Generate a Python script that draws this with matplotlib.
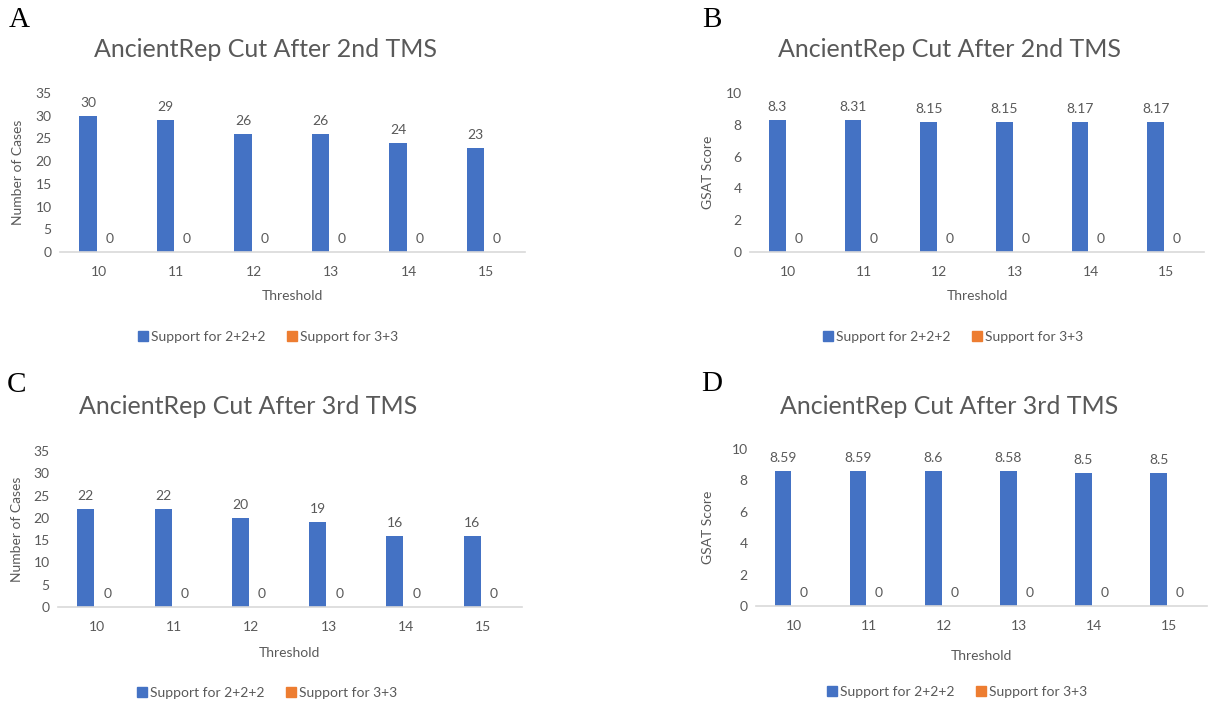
import matplotlib
matplotlib.use("Agg")
import matplotlib.pyplot as plt
import numpy as np
from matplotlib.patches import Patch

thresholds = ["10", "11", "12", "13", "14", "15"]
a_222 = [30, 29, 26, 26, 24, 23]
a_33 = [0, 0, 0, 0, 0, 0]
b_222 = [8.3, 8.31, 8.15, 8.15, 8.17, 8.17]
b_33 = [0, 0, 0, 0, 0, 0]
c_222 = [22, 22, 20, 19, 16, 16]
c_33 = [0, 0, 0, 0, 0, 0]
d_222 = [8.59, 8.59, 8.6, 8.58, 8.5, 8.5]
d_33 = [0, 0, 0, 0, 0, 0]

series_names = ["Support for 2+2+2", "Support for 3+3"]
title_2nd = "AncientRep Cut After 2nd TMS"
title_3rd = "AncientRep Cut After 3rd TMS"

BLUE = "#4472C4"
ORANGE = "#ED7D31"
GRAY = "#595959"
AXGRAY = "#D9D9D9"
FONT = "Lato"

W, H = 1215, 702
fig = plt.figure(figsize=(W / 100, H / 100), dpi=100)
plt.rcParams['font.family'] = [FONT, 'DejaVu Sans']


def px_axes(l, r, top, bot):
    return [l / W, 1 - bot / H, (r - l) / W, (bot - top) / H]


panels = [
    dict(rect=px_axes(60, 525, 93, 252), v1=a_222, v2=a_33, ymax=35, step=5,
         ylabel="Number of Cases", title=title_2nd, tx=0.441, ty=1.22,
         ylx=-0.09, xly=-0.277, leg=(268, 337), letter=("A", 19, 20)),
    dict(rect=px_axes(750, 1204, 93, 252), v1=b_222, v2=b_33, ymax=10, step=2,
         ylabel="GSAT Score", title=title_2nd, tx=0.4405, ty=1.22,
         ylx=-0.0925, xly=-0.277, leg=(953, 337), letter=("B", 712, 20)),
    dict(rect=px_axes(58, 521.6, 451, 607), v1=c_222, v2=c_33, ymax=35, step=5,
         ylabel="Number of Cases", title=title_3rd, tx=0.41, ty=1.231,
         ylx=-0.088, xly=-0.295, leg=(267, 693), letter=("C", 17, 385)),
    dict(rect=px_axes(756, 1206.6, 449, 606), v1=d_222, v2=d_33, ymax=10, step=2,
         ylabel="GSAT Score", title=title_3rd, tx=0.428, ty=1.217,
         ylx=-0.1065, xly=-0.318, leg=(957, 692), letter=("D", 712, 384)),
]

bw = 0.22
off = 0.139
for p in panels:
    ax = fig.add_axes(p["rect"])
    x = np.arange(len(thresholds))
    b1 = ax.bar(x - off, p["v1"], width=bw, color=BLUE, label=series_names[0])
    b2 = ax.bar(x + off, p["v2"], width=bw, color=ORANGE, label=series_names[1])
    for bars, vals in ((b1, p["v1"]), (b2, p["v2"])):
        for rect, v in zip(bars, vals):
            ax.annotate(f"{v:g}", (rect.get_x() + rect.get_width() / 2, rect.get_height()),
                        xytext=(0, 5), textcoords="offset points", ha="center", va="bottom",
                        fontsize=10, color=GRAY)
    ax.set_xlim(-0.5, len(thresholds) - 0.5)
    ax.set_ylim(0, p["ymax"])
    ax.set_yticks(np.arange(0, p["ymax"] + 0.001, p["step"]))
    ax.set_xticks(x)
    ax.set_xticklabels(thresholds)
    ax.tick_params(axis="both", length=0, labelsize=10, labelcolor=GRAY)
    ax.tick_params(axis="x", pad=10)
    ax.tick_params(axis="y", pad=6)
    for s in ("top", "right", "left"):
        ax.spines[s].set_visible(False)
    ax.spines["bottom"].set_color(AXGRAY)
    ax.spines["bottom"].set_linewidth(1.2)
    ax.set_ylabel(p["ylabel"], fontsize=10, color=GRAY, va="center")
    ax.yaxis.set_label_coords(p["ylx"], 0.5)
    ax.set_xlabel("Threshold", fontsize=10, color=GRAY, va="center")
    ax.xaxis.set_label_coords(0.5, p["xly"])
    ax.set_title(p["title"], fontsize=18, color=GRAY, x=p["tx"], y=p["ty"], va="center")
    handles = [Patch(color=BLUE), Patch(color=ORANGE)]
    lx, ly = p["leg"]
    ax.legend(handles, series_names, loc="center", bbox_to_anchor=(lx / W, 1 - ly / H),
              bbox_transform=fig.transFigure, ncol=2, frameon=False, fontsize=10,
              labelcolor=GRAY, handlelength=0.7, handleheight=0.7, handletextpad=0.2,
              columnspacing=1.6)
    letter, fx, fy = p["letter"]
    fig.text(fx / W, 1 - fy / H, letter, fontsize=21, family="Liberation Serif",
             ha="center", va="center", color="black")

fig.savefig("out.png", dpi=100, facecolor="white")
